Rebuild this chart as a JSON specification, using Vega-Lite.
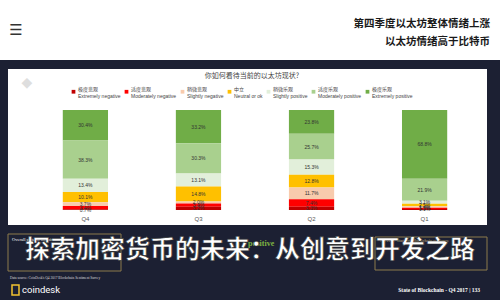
{
  "$schema": "https://vega.github.io/schema/vega-lite/v6.json",
  "width": 500,
  "height": 300,
  "autosize": {"type": "none"},
  "padding": 0,
  "background": "#ffffff",
  "config": {"view": {"stroke": null}},
  "datasets": {
    "survey": [
      {"quarter": "Q4", "sentiment": "Extremely positive", "level": 7, "share": 0.304},
      {"quarter": "Q4", "sentiment": "Moderately positive", "level": 6, "share": 0.383},
      {"quarter": "Q4", "sentiment": "Slightly positive", "level": 5, "share": 0.134},
      {"quarter": "Q4", "sentiment": "Neutral or ok", "level": 4, "share": 0.101},
      {"quarter": "Q4", "sentiment": "Slightly negative", "level": 3, "share": 0.037},
      {"quarter": "Q4", "sentiment": "Moderately negative", "level": 2, "share": 0.034},
      {"quarter": "Q4", "sentiment": "Extremely negative", "level": 1, "share": 0.007},
      {"quarter": "Q3", "sentiment": "Extremely positive", "level": 7, "share": 0.332},
      {"quarter": "Q3", "sentiment": "Moderately positive", "level": 6, "share": 0.303},
      {"quarter": "Q3", "sentiment": "Slightly positive", "level": 5, "share": 0.131},
      {"quarter": "Q3", "sentiment": "Neutral or ok", "level": 4, "share": 0.148},
      {"quarter": "Q3", "sentiment": "Slightly negative", "level": 3, "share": 0.020},
      {"quarter": "Q3", "sentiment": "Moderately negative", "level": 2, "share": 0.034},
      {"quarter": "Q3", "sentiment": "Extremely negative", "level": 1, "share": 0.032},
      {"quarter": "Q2", "sentiment": "Extremely positive", "level": 7, "share": 0.238},
      {"quarter": "Q2", "sentiment": "Moderately positive", "level": 6, "share": 0.257},
      {"quarter": "Q2", "sentiment": "Slightly positive", "level": 5, "share": 0.153},
      {"quarter": "Q2", "sentiment": "Neutral or ok", "level": 4, "share": 0.128},
      {"quarter": "Q2", "sentiment": "Slightly negative", "level": 3, "share": 0.117},
      {"quarter": "Q2", "sentiment": "Moderately negative", "level": 2, "share": 0.074},
      {"quarter": "Q2", "sentiment": "Extremely negative", "level": 1, "share": 0.033},
      {"quarter": "Q1", "sentiment": "Extremely positive", "level": 7, "share": 0.688},
      {"quarter": "Q1", "sentiment": "Moderately positive", "level": 6, "share": 0.219},
      {"quarter": "Q1", "sentiment": "Slightly positive", "level": 5, "share": 0.031},
      {"quarter": "Q1", "sentiment": "Neutral or ok", "level": 4, "share": 0.025},
      {"quarter": "Q1", "sentiment": "Slightly negative", "level": 3, "share": 0.014},
      {"quarter": "Q1", "sentiment": "Moderately negative", "level": 2, "share": 0.012},
      {"quarter": "Q1", "sentiment": "Extremely negative", "level": 1, "share": 0.011}
    ]
  },
  "layer": [
    {
      "data": {"values": [{}]},
      "layer": [
        {"mark": {"type": "rect", "color": "#1c2033"},
         "encoding": {
           "x": {"datum": 0, "type": "quantitative", "scale": {"domain": [0, 500], "range": [0, 500], "nice": false, "zero": false}, "axis": null},
           "x2": {"datum": 500},
           "y": {"datum": 60, "type": "quantitative", "scale": {"domain": [0, 300], "range": [0, 300], "nice": false, "zero": false}, "axis": null},
           "y2": {"datum": 69}}},
        {"mark": {"type": "rect", "color": "#1c2033"},
         "encoding": {
           "x": {"datum": 0, "type": "quantitative", "scale": {"domain": [0, 500], "range": [0, 500], "nice": false, "zero": false}, "axis": null},
           "x2": {"datum": 8},
           "y": {"datum": 60, "type": "quantitative", "scale": {"domain": [0, 300], "range": [0, 300], "nice": false, "zero": false}, "axis": null},
           "y2": {"datum": 300}}},
        {"mark": {"type": "rect", "color": "#1c2033"},
         "encoding": {
           "x": {"datum": 487, "type": "quantitative", "scale": {"domain": [0, 500], "range": [0, 500], "nice": false, "zero": false}, "axis": null},
           "x2": {"datum": 500},
           "y": {"datum": 60, "type": "quantitative", "scale": {"domain": [0, 300], "range": [0, 300], "nice": false, "zero": false}, "axis": null},
           "y2": {"datum": 300}}},
        {"mark": {"type": "rect", "color": "#1c2033"},
         "encoding": {
           "x": {"datum": 0, "type": "quantitative", "scale": {"domain": [0, 500], "range": [0, 500], "nice": false, "zero": false}, "axis": null},
           "x2": {"datum": 500},
           "y": {"datum": 225, "type": "quantitative", "scale": {"domain": [0, 300], "range": [0, 300], "nice": false, "zero": false}, "axis": null},
           "y2": {"datum": 300}}},
        {"mark": {"type": "rect", "fill": null, "stroke": "#8c7a4c", "strokeWidth": 1},
         "encoding": {
           "x": {"datum": 8, "type": "quantitative", "scale": {"domain": [0, 500], "range": [0, 500], "nice": false, "zero": false}, "axis": null},
           "x2": {"datum": 121},
           "y": {"datum": 234, "type": "quantitative", "scale": {"domain": [0, 300], "range": [0, 300], "nice": false, "zero": false}, "axis": null},
           "y2": {"datum": 271}}},
        {"mark": {"type": "rect", "fill": null, "stroke": "#8c7a4c", "strokeWidth": 1},
         "encoding": {
           "x": {"datum": 375, "type": "quantitative", "scale": {"domain": [0, 500], "range": [0, 500], "nice": false, "zero": false}, "axis": null},
           "x2": {"datum": 487},
           "y": {"datum": 237, "type": "quantitative", "scale": {"domain": [0, 300], "range": [0, 300], "nice": false, "zero": false}, "axis": null},
           "y2": {"datum": 270}}},
        {"mark": {"type": "rect", "fill": null, "stroke": "#f2c230", "strokeWidth": 1.5},
         "encoding": {
           "x": {"datum": 12, "type": "quantitative", "scale": {"domain": [0, 500], "range": [0, 500], "nice": false, "zero": false}, "axis": null},
           "x2": {"datum": 19},
           "y": {"datum": 285, "type": "quantitative", "scale": {"domain": [0, 300], "range": [0, 300], "nice": false, "zero": false}, "axis": null},
           "y2": {"datum": 295}}},
        {"mark": {"type": "text", "text": "☰", "align": "center", "baseline": "middle", "fontSize": 15, "font": "DejaVu Sans", "color": "#333333"},
         "encoding": {
           "x": {"datum": 16, "type": "quantitative", "scale": {"domain": [0, 500], "range": [0, 500], "nice": false, "zero": false}, "axis": null},
           "y": {"datum": 30, "type": "quantitative", "scale": {"domain": [0, 300], "range": [0, 300], "nice": false, "zero": false}, "axis": null}}},
        {"mark": {"type": "text", "text": "◆", "align": "center", "baseline": "middle", "fontSize": 14, "font": "DejaVu Sans", "color": "#dedede"},
         "encoding": {
           "x": {"datum": 27, "type": "quantitative", "scale": {"domain": [0, 500], "range": [0, 500], "nice": false, "zero": false}, "axis": null},
           "y": {"datum": 83, "type": "quantitative", "scale": {"domain": [0, 300], "range": [0, 300], "nice": false, "zero": false}, "axis": null}}},
        {"mark": {"type": "text", "text": "第四季度以太坊整体情绪上涨", "align": "right", "baseline": "middle", "fontSize": 10.5, "fontWeight": "bold", "font": "Noto Sans CJK SC", "color": "#1a1a1a"},
         "encoding": {
           "x": {"datum": 490, "type": "quantitative", "scale": {"domain": [0, 500], "range": [0, 500], "nice": false, "zero": false}, "axis": null},
           "y": {"datum": 24, "type": "quantitative", "scale": {"domain": [0, 300], "range": [0, 300], "nice": false, "zero": false}, "axis": null}}},
        {"mark": {"type": "text", "text": "以太坊情绪高于比特币", "align": "right", "baseline": "middle", "fontSize": 10.5, "fontWeight": "bold", "font": "Noto Sans CJK SC", "color": "#1a1a1a"},
         "encoding": {
           "x": {"datum": 490, "type": "quantitative", "scale": {"domain": [0, 500], "range": [0, 500], "nice": false, "zero": false}, "axis": null},
           "y": {"datum": 42, "type": "quantitative", "scale": {"domain": [0, 300], "range": [0, 300], "nice": false, "zero": false}, "axis": null}}},
        {"mark": {"type": "text", "text": "你如何看待当前的以太坊现状?", "align": "center", "baseline": "middle", "fontSize": 7, "font": "Noto Sans CJK SC", "color": "#444444"},
         "encoding": {
           "x": {"datum": 252, "type": "quantitative", "scale": {"domain": [0, 500], "range": [0, 500], "nice": false, "zero": false}, "axis": null},
           "y": {"datum": 76, "type": "quantitative", "scale": {"domain": [0, 300], "range": [0, 300], "nice": false, "zero": false}, "axis": null}}},
        {"mark": {"type": "text", "text": "Overall state of bitcoin sentiment", "align": "left", "baseline": "middle", "fontSize": 4.5, "font": "Liberation Serif", "color": "#ffffff"},
         "encoding": {
           "x": {"datum": 12, "type": "quantitative", "scale": {"domain": [0, 500], "range": [0, 500], "nice": false, "zero": false}, "axis": null},
           "y": {"datum": 240, "type": "quantitative", "scale": {"domain": [0, 300], "range": [0, 300], "nice": false, "zero": false}, "axis": null}}},
        {"mark": {"type": "text", "text": "Q4 2017 State of Blockchain response", "align": "left", "baseline": "middle", "fontSize": 4.5, "font": "Liberation Serif", "color": "#c9b37a"},
         "encoding": {
           "x": {"datum": 380, "type": "quantitative", "scale": {"domain": [0, 500], "range": [0, 500], "nice": false, "zero": false}, "axis": null},
           "y": {"datum": 241, "type": "quantitative", "scale": {"domain": [0, 300], "range": [0, 300], "nice": false, "zero": false}, "axis": null}}},
        {"mark": {"type": "text", "text": "▲", "align": "center", "baseline": "middle", "fontSize": 9, "font": "DejaVu Sans", "color": "#6aa84f"},
         "encoding": {
           "x": {"datum": 186, "type": "quantitative", "scale": {"domain": [0, 500], "range": [0, 500], "nice": false, "zero": false}, "axis": null},
           "y": {"datum": 243, "type": "quantitative", "scale": {"domain": [0, 300], "range": [0, 300], "nice": false, "zero": false}, "axis": null}}},
        {"mark": {"type": "text", "text": "positive", "align": "left", "baseline": "middle", "fontSize": 8, "fontWeight": "bold", "font": "Liberation Serif", "color": "#7cb342"},
         "encoding": {
           "x": {"datum": 248, "type": "quantitative", "scale": {"domain": [0, 500], "range": [0, 500], "nice": false, "zero": false}, "axis": null},
           "y": {"datum": 244, "type": "quantitative", "scale": {"domain": [0, 300], "range": [0, 300], "nice": false, "zero": false}, "axis": null}}},
        {"mark": {"type": "text", "text": "Data source: CoinDesk's Q4 2017 Blockchain Sentiment Survey", "align": "left", "baseline": "middle", "fontSize": 3.5, "font": "Liberation Serif", "color": "#dddddd"},
         "encoding": {
           "x": {"datum": 10, "type": "quantitative", "scale": {"domain": [0, 500], "range": [0, 500], "nice": false, "zero": false}, "axis": null},
           "y": {"datum": 278, "type": "quantitative", "scale": {"domain": [0, 300], "range": [0, 300], "nice": false, "zero": false}, "axis": null}}},
        {"mark": {"type": "text", "text": "coindesk", "align": "left", "baseline": "middle", "fontSize": 9.5, "font": "Roboto", "color": "#ffffff"},
         "encoding": {
           "x": {"datum": 22, "type": "quantitative", "scale": {"domain": [0, 500], "range": [0, 500], "nice": false, "zero": false}, "axis": null},
           "y": {"datum": 290, "type": "quantitative", "scale": {"domain": [0, 300], "range": [0, 300], "nice": false, "zero": false}, "axis": null}}},
        {"mark": {"type": "text", "text": "State of Blockchain - Q4 2017    |    133", "align": "right", "baseline": "middle", "fontSize": 5.5, "fontWeight": "bold", "font": "Liberation Serif", "color": "#ffffff"},
         "encoding": {
           "x": {"datum": 480, "type": "quantitative", "scale": {"domain": [0, 500], "range": [0, 500], "nice": false, "zero": false}, "axis": null},
           "y": {"datum": 290, "type": "quantitative", "scale": {"domain": [0, 300], "range": [0, 300], "nice": false, "zero": false}, "axis": null}}},
        {"mark": {"type": "text", "text": "探索加密货币的未来：从创意到开发之路", "align": "center", "baseline": "middle", "fontSize": 25, "fontWeight": "bold", "font": "Noto Sans CJK SC", "color": "#ffffff", "stroke": "#333333", "strokeWidth": 0.6},
         "encoding": {
           "x": {"datum": 250, "type": "quantitative", "scale": {"domain": [0, 500], "range": [0, 500], "nice": false, "zero": false}, "axis": null},
           "y": {"datum": 250, "type": "quantitative", "scale": {"domain": [0, 300], "range": [0, 300], "nice": false, "zero": false}, "axis": null}}}
      ]
    },
    {
      "data": {"name": "survey"},
      "encoding": {
        "x": {
          "field": "quarter", "type": "nominal", "sort": ["Q4", "Q3", "Q2", "Q1"],
          "scale": {"range": [30, 480], "paddingInner": 0.6, "paddingOuter": 0.29},
          "axis": {"title": null, "domain": false, "ticks": false, "labelAngle": 0, "labelFontSize": 6, "labelColor": "#555555", "labelFont": "Liberation Sans", "labelPadding": 2, "offset": -87}
        },
        "y": {
          "field": "share", "type": "quantitative", "stack": "zero",
          "scale": {"domain": [0, 1], "range": [210, 110], "nice": false},
          "axis": {"title": null, "values": [0, 0.2, 0.4, 0.6, 0.8, 1], "format": ".0%", "domain": false, "ticks": false, "grid": true, "gridColor": "#e4e4e4", "labelFontSize": 6, "labelColor": "#555555", "labelFont": "Liberation Sans", "labelPadding": 3, "offset": -27}
        },
        "order": {"field": "level", "type": "quantitative"}
      },
      "layer": [
        {
          "mark": {"type": "bar"},
          "encoding": {
            "color": {
              "field": "sentiment", "type": "nominal",
              "scale": {
                "domain": ["Extremely negative", "Moderately negative", "Slightly negative", "Neutral or ok", "Slightly positive", "Moderately positive", "Extremely positive"],
                "range": ["#c00000", "#ff0000", "#f8cbad", "#ffc000", "#e2efda", "#a9d08e", "#70ad47"]
              },
              "legend": {
                "orient": "none", "legendX": 71, "legendY": 89, "direction": "horizontal", "columns": 7, "title": null,
                "symbolType": "square", "symbolSize": 14, "symbolStrokeWidth": 0,
                "labelFontSize": 5, "labelFont": "Liberation Sans, Noto Sans CJK SC", "labelColor": "#444444",
                "labelOffset": 2, "columnPadding": 3, "labelBaseline": "bottom",
                "labelExpr": "[{'Extremely negative':'极度悲观','Moderately negative':'适度悲观','Slightly negative':'稍微悲观','Neutral or ok':'中立','Slightly positive':'稍微乐观','Moderately positive':'适度乐观','Extremely positive':'极度乐观'}[datum.label], datum.label]"
              }
            }
          }
        },
        {
          "mark": {"type": "text", "fontSize": 5, "font": "Liberation Sans", "color": "#333333"},
          "encoding": {
            "y": {"field": "share", "type": "quantitative", "stack": "zero", "bandPosition": 0.5, "axis": null},
            "detail": {"field": "sentiment"},
            "text": {"field": "share", "type": "quantitative", "format": ".1%"}
          }
        }
      ]
    }
  ],
  "resolve": {"scale": {"x": "independent", "y": "independent"}, "axis": {"x": "independent", "y": "independent"}}
}
